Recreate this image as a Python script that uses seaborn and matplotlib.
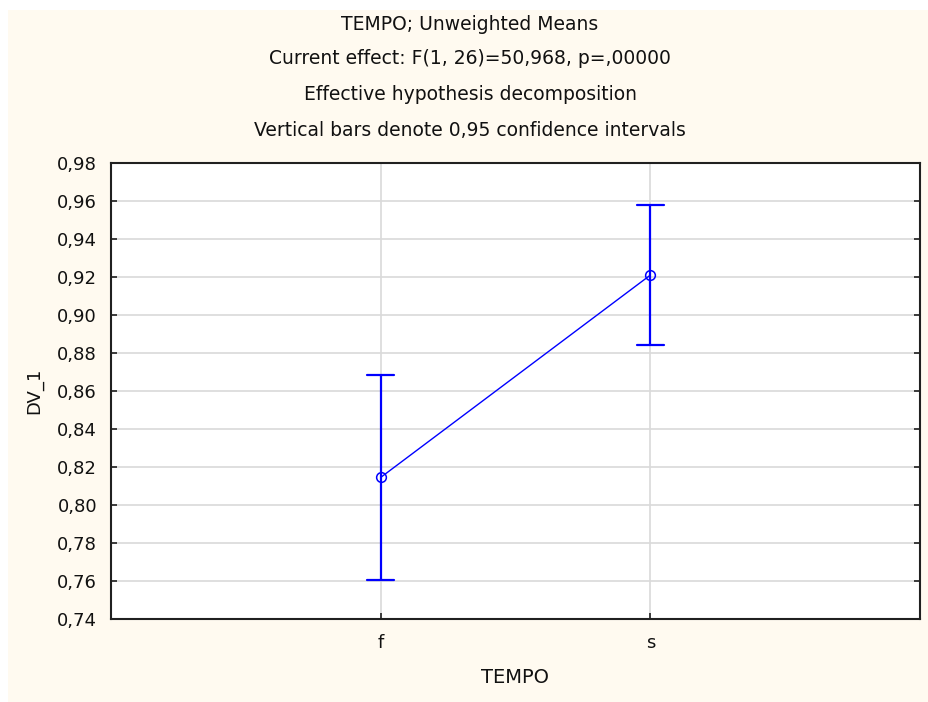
import matplotlib
matplotlib.use("Agg")
import matplotlib.pyplot as plt
import matplotlib.ticker as mticker
from matplotlib.patches import Rectangle
import seaborn as sns
import pandas as pd

# ---- data ----
categories = ["f", "s"]
means = [0.8145, 0.9210]
ci_low = [0.7605, 0.8840]
ci_high = [0.8685, 0.9580]
title_lines = [
    "TEMPO; Unweighted Means",
    "Current effect: F(1, 26)=50,968, p=,00000",
    "Effective hypothesis decomposition",
    "Vertical bars denote 0,95 confidence intervals",
]
y_ticks = [0.74, 0.76, 0.78, 0.80, 0.82, 0.84, 0.86, 0.88, 0.90, 0.92, 0.94, 0.96, 0.98]

rows = []
for c, lo, m, hi in zip(categories, ci_low, means, ci_high):
    for v in (lo, m, hi):
        rows.append({"TEMPO": c, "DV_1": v})
df = pd.DataFrame(rows)

sns.set_theme(style="white")
plt.rcParams["font.family"] = ["DejaVu Sans"]

W, H = 929, 702
fig = plt.figure(figsize=(W / 100, H / 100), dpi=100, facecolor="white")
bg = Rectangle((8 / W, 0), 1 - 8 / W, 1 - 10 / H, transform=fig.transFigure,
               facecolor="#FFFAF0", edgecolor="none", zorder=-10)
fig.patches.append(bg)

left, right, top, bottom = 111, 920, 163, 619
ax = fig.add_axes([left / W, 1 - bottom / H, (right - left) / W, (bottom - top) / H])
ax.set_facecolor("white")
ax.set_zorder(1)

blue = "#0000FF"
sns.pointplot(data=df, x="TEMPO", y="DV_1", order=categories, estimator="median",
              errorbar=("pi", 100), capsize=0.1, color=blue, markers="o",
              linestyles="-", ax=ax,
              err_kws={"linewidth": 1.6, "color": blue})
for line in ax.lines:
    line.set_color(blue)
for coll in ax.collections:
    coll.set_facecolor("none")
    coll.set_edgecolor(blue)
main = [l for l in ax.lines if len(l.get_xdata()) == len(categories)]
for l in main:
    l.set_linewidth(1.0)
    l.set_marker("o")
    l.set_markersize(7)
    l.set_markerfacecolor("none")
    l.set_markeredgecolor(blue)
    l.set_markeredgewidth(1.1)
    l.set_zorder(5)

ax.set_xlim(-1, 2)
ax.set_ylim(0.74, 0.98)
ax.set_yticks(y_ticks)
ax.yaxis.set_major_formatter(mticker.FuncFormatter(lambda v, p: f"{v:.2f}".replace(".", ",")))

ax.grid(True, color="#D9D9D9", linewidth=1.2)
ax.set_axisbelow(True)
for s in ax.spines.values():
    s.set_visible(True)
    s.set_color("#202020")
    s.set_linewidth(1.5)
ax.tick_params(axis="both", direction="in", length=4, width=1.2, color="#202020",
               labelsize=13, labelcolor="#111111", pad=10)
ax.tick_params(axis="y", right=True, left=True)
ax.tick_params(axis="x", bottom=True, top=False, pad=11)

ax.set_xlabel("TEMPO", fontsize=14, color="#111111", labelpad=11)
ax.set_ylabel("DV_1", fontsize=13, color="#111111", labelpad=10)

cx = 470 / W
title_y = [24, 59, 95, 130]
for t, yy in zip(title_lines, title_y):
    fig.text(cx, 1 - yy / H, t, ha="center", va="center", fontsize=13.5, color="#111111")

fig.savefig("out.png", dpi=100, facecolor="white")
